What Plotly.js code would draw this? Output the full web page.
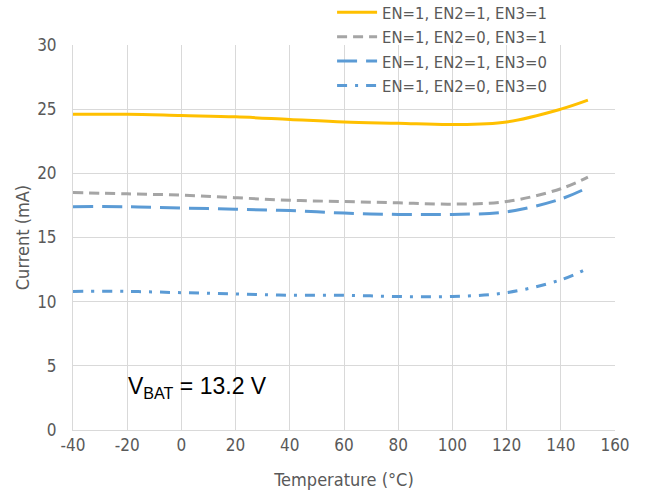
<!DOCTYPE html>
<html>
<head>
<meta charset="utf-8">
<script src="https://cdn.plot.ly/plotly-3.0.1.min.js"></script>
<style>html,body{margin:0;padding:0;background:#fff;}#chart{width:645px;height:496px;}</style>
</head>
<body>
<div id="chart"></div>
<script>
const temperature = [-40, -20, 0, 20, 40, 60, 80, 100, 120, 140, 150];
const en111 = [24.6, 24.6, 24.5, 24.4, 24.2, 24.0, 23.9, 23.8, 24.0, 25.0, 25.7];
const en101 = [18.5, 18.4, 18.3, 18.1, 17.9, 17.8, 17.7, 17.6, 17.8, 18.8, 19.7];
const en110 = [17.4, 17.4, 17.3, 17.2, 17.1, 16.9, 16.8, 16.8, 17.0, 18.0, 18.9];
const en100 = [10.8, 10.8, 10.7, 10.6, 10.5, 10.5, 10.4, 10.4, 10.7, 11.7, 12.6];
const seriesNames = ["EN=1, EN2=1, EN3=1", "EN=1, EN2=0, EN3=1", "EN=1, EN2=1, EN3=0", "EN=1, EN2=0, EN3=0"];
const xTicks = [-40, -20, 0, 20, 40, 60, 80, 100, 120, 140, 160];
const yTicks = [0, 5, 10, 15, 20, 25, 30];

const font = "Liberation Sans Narrow, DejaVu Sans Condensed, Arial Narrow, sans-serif";
const styles = [
  {color: "#FFC000", dash: "solid"},
  {color: "#A5A5A5", dash: "10px,6px"},
  {color: "#5B9BD5", dash: "20px,9px"},
  {color: "#5B9BD5", dash: "10px,8px,3px,8px"}
];
const ys = [en111, en101, en110, en100];
const traces = ys.map((y, i) => ({
  x: temperature, y: y, name: seriesNames[i], type: "scatter", mode: "lines",
  line: {color: styles[i].color, dash: styles[i].dash, width: 3, shape: "spline", smoothing: 1}
}));

const layout = {
  width: 645, height: 496,
  margin: {l: 73, r: 30, t: 45, b: 66, autoexpand: false},
  paper_bgcolor: "#fff", plot_bgcolor: "#fff",
  font: {family: font, color: "#595959", size: 16},
  showlegend: true,
  legend: {x: 0.478, y: 1.13, xanchor: "left", yanchor: "top", bgcolor: "rgba(0,0,0,0)",
           font: {family: font, size: 16.5, color: "#595959"}, tracegroupgap: 0, itemwidth: 40},
  xaxis: {range: [-40, 160], tickvals: xTicks, ticktext: xTicks.map(String),
          showgrid: true, gridcolor: "#D9D9D9", gridwidth: 1, zeroline: false,
          showline: true, linecolor: "#D9D9D9", ticks: "", tickfont: {size: 17, color: "#595959"},
          title: {text: "Temperature (°C)", font: {size: 18, color: "#595959"}, standoff: 18}},
  yaxis: {range: [0, 30], tickvals: yTicks, ticktext: yTicks.map(String),
          showgrid: true, gridcolor: "#D9D9D9", gridwidth: 1, zeroline: false,
          showline: true, linecolor: "#D9D9D9", ticks: "", ticklabelstandoff: 12, tickfont: {size: 17, color: "#595959"},
          title: {text: "Current (mA)", font: {size: 18, color: "#595959"}, standoff: 2}},
  annotations: [{
    xref: "paper", yref: "paper", x: 0.098, y: 0.11, xanchor: "left", yanchor: "middle",
    text: "V<sub>BAT</sub> = 13.2 V", showarrow: false,
    font: {family: "Liberation Sans, Arial, sans-serif", size: 23, color: "#000"}
  }]
};
Plotly.newPlot("chart", traces, layout, {displayModeBar: false, staticPlot: true});
</script>
</body>
</html>
